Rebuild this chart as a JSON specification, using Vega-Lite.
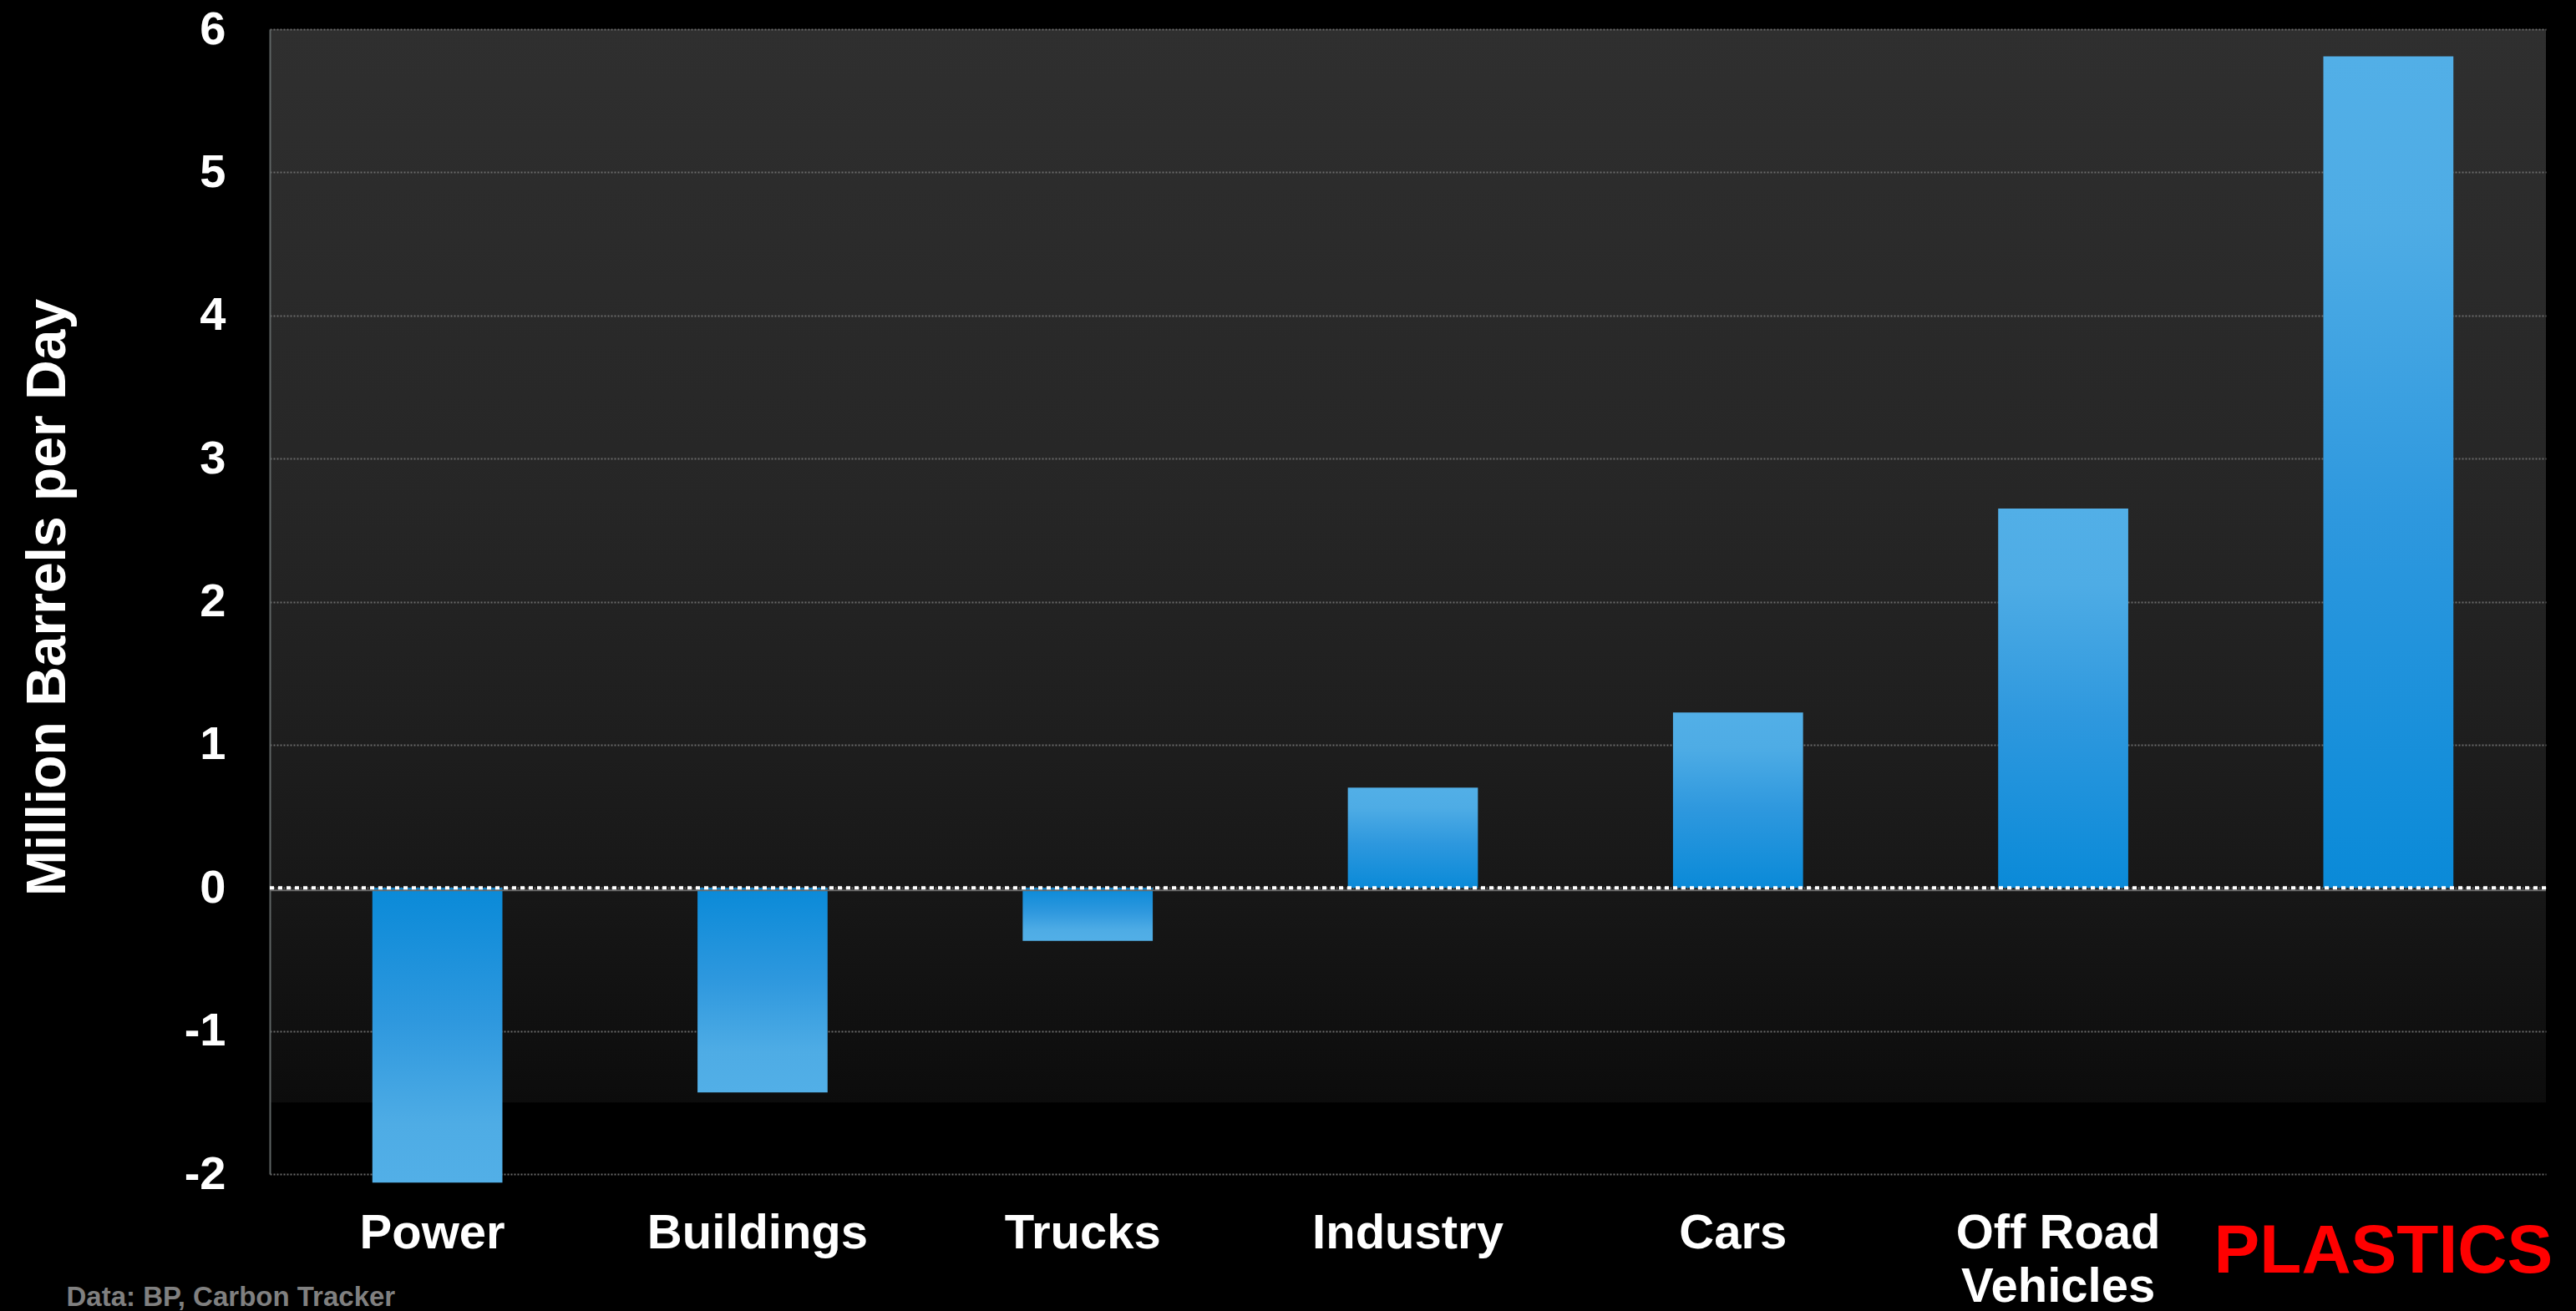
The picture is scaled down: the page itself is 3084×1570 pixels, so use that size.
{
  "$schema": "https://vega.github.io/schema/vega-lite/v6.json",
  "width": 2725,
  "height": 1371,
  "autosize": "none",
  "padding": {"left": 323, "top": 35, "right": 36, "bottom": 164},
  "background": "#000000",
  "config": {
    "font": "Liberation Sans",
    "view": {
      "stroke": null,
      "fill": {
        "gradient": "linear", "x1": 0, "y1": 0, "x2": 0, "y2": 1,
        "stops": [
          {"offset": 0, "color": "#2f2f2f"},
          {"offset": 0.41, "color": "#262626"},
          {"offset": 0.594, "color": "#1f1f1f"},
          {"offset": 0.74, "color": "#181818"},
          {"offset": 0.9375, "color": "#0c0c0c"},
          {"offset": 0.9377, "color": "#000000"},
          {"offset": 1, "color": "#000000"}
        ]
      }
    }
  },
  "data": {
    "values": [
      {"sector": "Power", "value": -2.06},
      {"sector": "Buildings", "value": -1.43},
      {"sector": "Trucks", "value": -0.37},
      {"sector": "Industry", "value": 0.70},
      {"sector": "Cars", "value": 1.225},
      {"sector": "Off Road Vehicles", "value": 2.65},
      {"sector": "PLASTICS", "value": 5.81}
    ]
  },
  "layer": [
    {
      "transform": [{"filter": "datum.value >= 0"}],
      "mark": {
        "type": "bar",
        "xOffset": 6,
        "fill": {
          "gradient": "linear", "x1": 0, "y1": 1, "x2": 0, "y2": 0,
          "stops": [
            {"offset": 0, "color": "#0a8ad8"},
            {"offset": 0.45, "color": "#2e98de"},
            {"offset": 0.8, "color": "#4eace5"},
            {"offset": 1, "color": "#52afe7"}
          ]
        }
      },
      "encoding": {
        "x": {
          "field": "sector", "type": "nominal", "sort": null,
          "scale": {
            "domain": ["Power", "Buildings", "Trucks", "Industry", "Cars", "Off Road Vehicles", "PLASTICS"],
            "paddingInner": 0.6, "paddingOuter": 0.3
          },
          "axis": {
            "title": "Data: BP, Carbon Tracker",
            "titleX": -244, "titleY": 157,
            "titleAlign": "left", "titleBaseline": "alphabetic",
            "titleColor": "#808080", "titleFontSize": 33, "titleFontWeight": "bold",
            "domain": false, "ticks": false, "labelAngle": 0,
            "labelColor": {"condition": {"test": "datum.value === 'PLASTICS'", "value": "#ff0000"}, "value": "#ffffff"},
            "labelFontSize": {"condition": {"test": "datum.value === 'PLASTICS'", "value": 82}, "value": 58},
            "labelPadding": {"condition": {"test": "datum.value === 'PLASTICS'", "value": 52}, "value": 42},
            "labelFontWeight": "bold",
            "labelBaseline": "top",
            "labelLineHeight": 64,
            "labelLimit": 0,
            "labelExpr": "datum.value == 'Off Road Vehicles' ? ['Off Road', 'Vehicles'] : datum.value"
          }
        },
        "y": {
          "field": "value", "type": "quantitative",
          "scale": {"domain": [-2, 6], "nice": false},
          "axis": {
            "title": "Million Barrels per Day",
            "values": [-2, -1, 0, 1, 2, 3, 4, 5, 6],
            "labelExpr": "'' + datum.value",
            "labelFontSize": 56, "labelFontWeight": "bold", "labelColor": "#ffffff",
            "labelPadding": 53,
            "ticks": false,
            "domain": true, "domainColor": "#5f6464", "domainWidth": 2,
            "grid": true, "gridColor": "#6a6a6a", "gridDash": [2, 2], "gridWidth": 2,
            "titleX": -246, "titleY": 680, "titleAngle": -90,
            "titleAlign": "center", "titleBaseline": "alphabetic",
            "titleFontSize": 66, "titleFontWeight": "bold", "titleColor": "#ffffff"
          }
        },
        "y2": {"datum": 0}
      }
    },
    {
      "transform": [{"filter": "datum.value < 0"}],
      "mark": {
        "type": "bar",
        "xOffset": 6,
        "fill": {
          "gradient": "linear", "x1": 0, "y1": 0, "x2": 0, "y2": 1,
          "stops": [
            {"offset": 0, "color": "#0a8ad8"},
            {"offset": 0.45, "color": "#2e98de"},
            {"offset": 0.8, "color": "#4eace5"},
            {"offset": 1, "color": "#52afe7"}
          ]
        }
      },
      "encoding": {
        "x": {"field": "sector", "type": "nominal", "sort": null},
        "y": {"field": "value", "type": "quantitative"},
        "y2": {"datum": 0}
      }
    },
    {
      "data": {"values": [{}]},
      "mark": {"type": "rule", "color": "#6a6a6a", "strokeWidth": 2, "yOffset": 3},
      "encoding": {"y": {"datum": 0, "type": "quantitative"}}
    },
    {
      "data": {"values": [{}]},
      "mark": {"type": "rule", "color": "#ffffff", "strokeWidth": 4, "strokeDash": [5, 5]},
      "encoding": {"y": {"datum": 0, "type": "quantitative"}}
    }
  ]
}
